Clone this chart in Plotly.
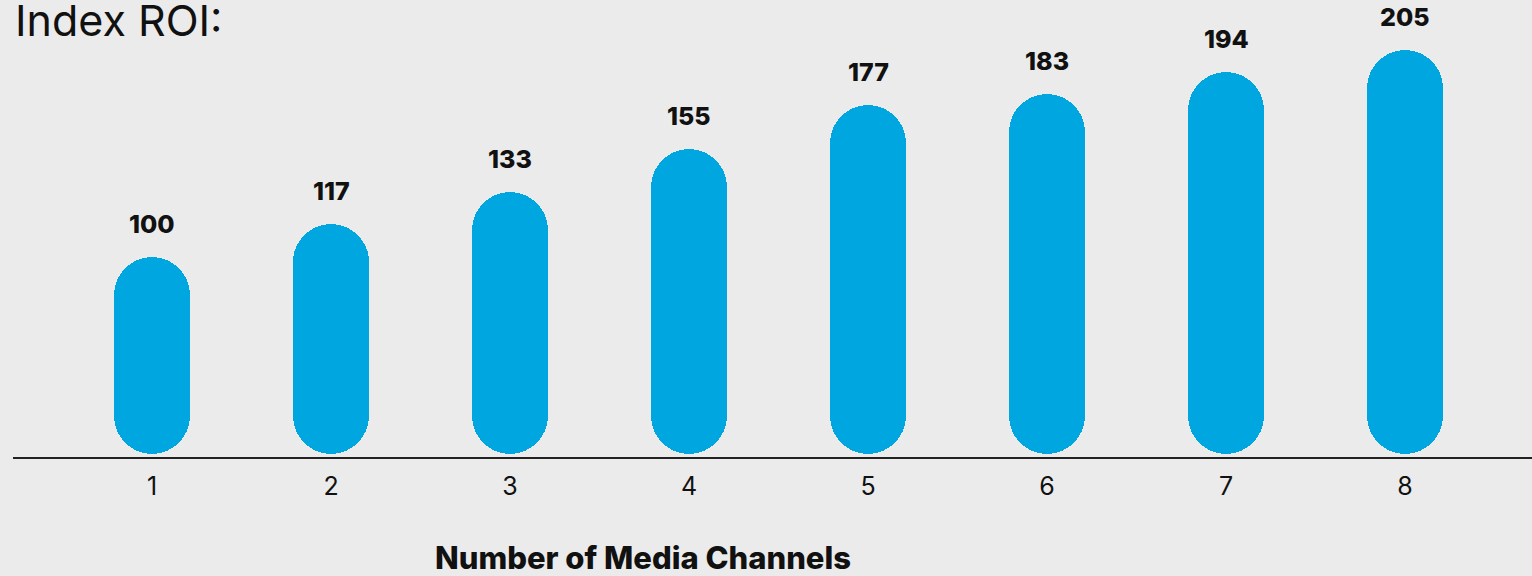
import plotly.graph_objects as go

channels = [1, 2, 3, 4, 5, 6, 7, 8]
index_roi = [100, 117, 133, 155, 177, 183, 194, 205]
tick_labels = ["1", "2", "3", "4", "5", "6", "7", "8"]

BAR = "#00a6df"
BG = "#ebebeb"
INK = "#111111"
FONT = "Inter"

LOW = 0.72   # lower piece covers 0 .. 0.72*value (rounded tip at the base)
HIGH = 0.28  # upper piece covers 0.28*value .. value (rounded tip at the top)

fig = go.Figure()
fig.add_trace(go.Bar(
    x=channels, y=[-v * LOW for v in index_roi], base=[v * LOW for v in index_roi],
    width=0.42, marker=dict(color=BAR, cornerradius="50%", line=dict(width=0)),
    hoverinfo="skip", showlegend=False))
fig.add_trace(go.Bar(
    x=channels, y=[v * (1 - HIGH) for v in index_roi], base=[v * HIGH for v in index_roi],
    width=0.42, marker=dict(color=BAR, cornerradius="50%", line=dict(width=0)),
    customdata=index_roi, hovertemplate="%{x}: %{customdata}<extra></extra>",
    showlegend=False))

for c, v in zip(channels, index_roi):
    fig.add_annotation(x=c, y=v, text=str(v), showarrow=False,
                       yanchor="bottom", yshift=16,
                       font=dict(family=FONT, size=25, color=INK, weight=800))

fig.add_annotation(xref="paper", yref="paper", x=0, y=1, xanchor="left", yanchor="top",
                   xshift=0, yshift=8, text="Index ROI:", showarrow=False,
                   font=dict(family=FONT, size=43, color=INK))
fig.add_annotation(xref="paper", yref="paper", x=0.4148, y=-0.221, xanchor="center",
                   yanchor="middle", text="Number of Media Channels", showarrow=False,
                   font=dict(family=FONT, size=31, color=INK, weight=800))

fig.update_layout(
    width=1532, height=576,
    margin=dict(l=13, r=0, t=0, b=119),
    paper_bgcolor=BG, plot_bgcolor=BG,
    barmode="overlay", bargap=0,
    font=dict(family=FONT, color=INK),
    xaxis=dict(range=[0.2235, 8.709], tickvals=channels, ticktext=tick_labels,
               showgrid=False, zeroline=False, showline=True, linecolor="#222222",
               linewidth=1.5, ticks="outside", ticklen=6, tickcolor=BG,
               tickfont=dict(family=FONT, size=25, color=INK), fixedrange=True),
    yaxis=dict(range=[-1.52, 230.5], visible=False, fixedrange=True),
)

fig.write_html("out.html")
